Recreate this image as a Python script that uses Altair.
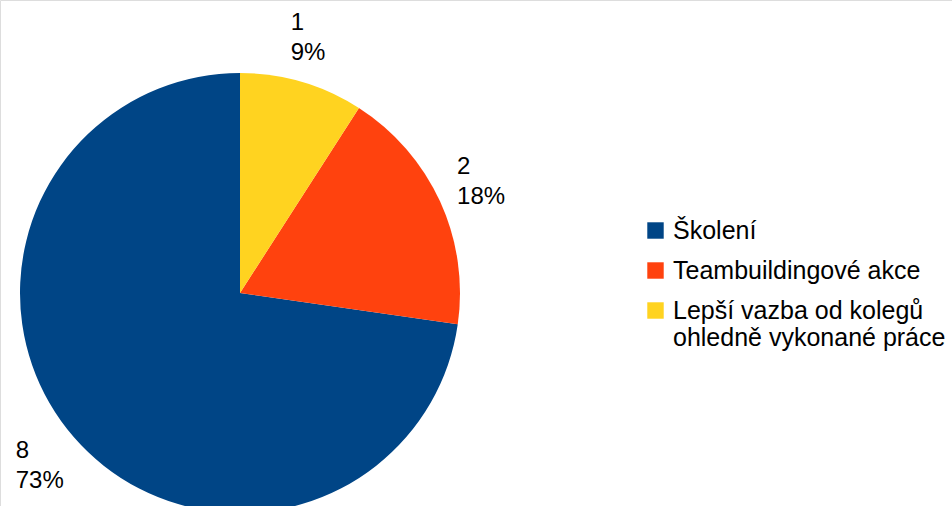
import altair as alt
import pandas as pd

categories = ["Školení", "Teambuildingové akce", "Lepší vazba od kolegů|ohledně vykonané práce"]
counts = [8, 2, 1]
pie_order = [3, 2, 1]
colors = ["#004586", "#ff420e", "#ffd320"]

total = sum(counts)
df = pd.DataFrame({
    "cat": categories,
    "count": counts,
    "ord": pie_order,
    "label": [f"{c}\n{round(100 * c / total)}%" for c in counts],
})

base = alt.Chart(df).encode(
    theta=alt.Theta("count:Q", stack=True),
    order=alt.Order("ord:Q"),
    x=alt.value(240),
    y=alt.value(293),
)

arc = base.mark_arc(outerRadius=220).encode(
    color=alt.Color(
        "cat:N",
        scale=alt.Scale(domain=categories, range=colors),
        legend=alt.Legend(
            title=None,
            orient="none",
            legendX=643,
            legendY=218,
            symbolType="square",
            symbolSize=270,
            symbolStrokeWidth=0,
            labelFontSize=25,
            labelFont="Liberation Sans",
            labelColor="#000000",
            labelLimit=400,
            labelOffset=5,
            rowPadding=14,
            padding=0,
            labelExpr="split(datum.label, '|')",
            labelBaseline="middle",
        ),
    )
)

text = base.mark_text(
    radius=265,
    fontSize=24,
    font="Liberation Sans",
    align="left",
    baseline="middle",
    dx=-24,
    dy=-16,
    lineBreak="\n",
    lineHeight=30,
    color="#000000",
).encode(text="label:N")

chart = (
    alt.layer(arc, text)
    .properties(width=952, height=506, autosize="none", padding=0)
    .configure_view(stroke=None)
    .configure(font="Liberation Sans")
)

chart.save("out.html", embed_options={"renderer": "svg", "actions": False})
